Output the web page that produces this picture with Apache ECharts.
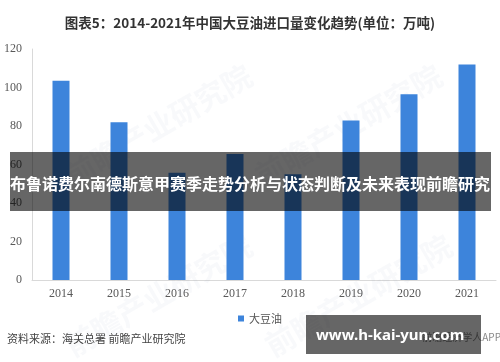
<!DOCTYPE html>
<html><head><meta charset="utf-8">
<script src="https://cdn.jsdelivr.net/npm/echarts@6/dist/echarts.min.js"></script>
<style>html,body{margin:0;padding:0;background:#fff}#c{width:500px;height:362px}</style>
</head><body><div id="c"></div>
<script>
const categories = ['2014','2015','2016','2017','2018','2019','2020','2021'];
const soyOil = [103.5, 82, 55.7, 65.5, 55, 82.8, 96.5, 112];
const seriesName = '大豆油';
const yTicks = {min: 0, max: 120, interval: 20};
const titleText = '图表5：2014-2021年中国大豆油进口量变化趋势(单位：万吨)';
const sourceText = '资料来源：海关总署 前瞻产业研究院';
const bannerText = '布鲁诺费尔南德斯意甲赛季走势分析与状态判断及未来表现前瞻研究';
const urlText = 'www.h-kai-yun.com';

const chart = echarts.init(document.getElementById('c'), null, {renderer: 'canvas'});
const cjk = '"Noto Sans CJK SC", sans-serif';
const wm = (x, y) => ({type: 'text', left: x, top: y, rotation: Math.PI / 6, z: 1,
  style: {text: '前瞻产业研究院', fill: 'rgba(120,140,170,0.05)', fontFamily: cjk, fontWeight: 'bold', fontSize: 30}});
chart.setOption({
  animation: false,
  grid: {left: 32, right: 4, top: 49, bottom: 82},
  legend: {data: [seriesName], left: 233, top: 308, itemWidth: 6, itemHeight: 6, icon: 'rect', itemGap: 4,
    textStyle: {fontFamily: cjk, fontSize: 11, color: '#555'}},
  xAxis: {type: 'category', data: categories,
    axisLine: {lineStyle: {color: '#d9d9d9'}}, axisTick: {show: false},
    axisLabel: {fontFamily: '"Liberation Serif", serif', fontSize: 12, color: '#595959', margin: 8}},
  yAxis: {type: 'value', min: yTicks.min, max: yTicks.max, interval: yTicks.interval,
    axisLine: {show: true, lineStyle: {color: '#d9d9d9'}}, axisTick: {show: false}, splitLine: {show: false},
    axisLabel: {fontFamily: '"Liberation Serif", serif', fontSize: 12, color: '#595959', margin: 10}},
  series: [{name: seriesName, type: 'bar', data: soyOil, barWidth: 17, itemStyle: {color: '#3d84db'}, z: 2}],
  graphic: [
    wm(60, 60), wm(250, 60), wm(60, 230), wm(260, 230),
    {type: 'text', left: 'center', top: 16, z: 5,
      style: {text: titleText, fill: '#333', fontFamily: cjk, fontWeight: 'bold', fontSize: 13.5}},
    {type: 'text', left: 7, top: 333, z: 5,
      style: {text: sourceText, fill: '#444', fontFamily: cjk, fontSize: 11}},
    {type: 'text', x: 501, y: 337, z: 5,
      style: {text: '前瞻经济学人APP', fill: '#888', fontFamily: cjk, fontSize: 10, textAlign: 'right', textVerticalAlign: 'middle'}},
    {type: 'rect', shape: {x: 10, y: 152, width: 481, height: 59}, z: 10,
      style: {fill: 'rgba(0,0,0,0.6)'}},
    {type: 'text', x: 250, y: 184, z: 11,
      style: {text: bannerText, fill: '#fff', fontFamily: cjk, fontWeight: 'bold', fontSize: 16, textAlign: 'center', textVerticalAlign: 'middle'}},
    {type: 'rect', shape: {x: 306, y: 315, width: 175, height: 39}, z: 10,
      style: {fill: 'rgba(0,0,0,0.6)'}},
    {type: 'text', x: 316, y: 336, z: 11,
      style: {text: urlText, fill: '#fff', fontFamily: '"Noto Sans", sans-serif', fontWeight: 'bold', fontSize: 15, textAlign: 'left', textVerticalAlign: 'middle'}}
  ]
});
</script></body></html>
